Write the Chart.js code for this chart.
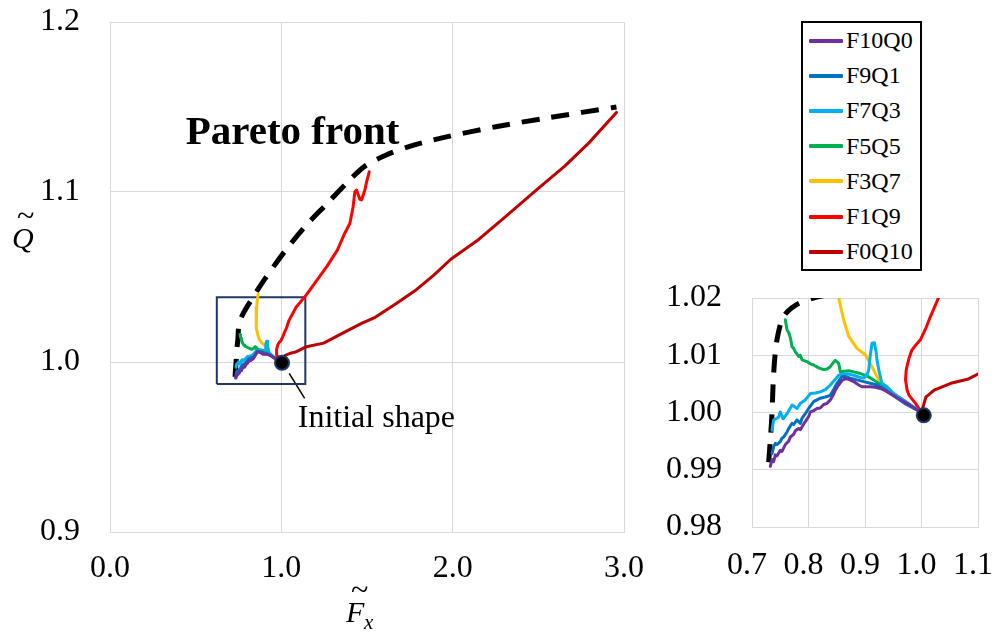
<!DOCTYPE html>
<html>
<head>
<meta charset="utf-8">
<script src="https://cdn.jsdelivr.net/npm/chart.js@4"></script>
<style>
  html, body { margin: 0; padding: 0; background: #fff; }
  body { width: 995px; height: 632px; position: relative; overflow: hidden; font-family: "Liberation Serif", Tinos, "Nimbus Roman", "Times New Roman", "DejaVu Serif", serif; }
  canvas { position: absolute; }
  #mainChart { left: 0; top: 0; }
  #insetChart { left: 620px; top: 270px; }
  .ax { position: absolute; font-style: italic; font-size: 30px; color: #000; line-height: 1; white-space: nowrap; }
  .ax.tl { font-style: normal; font-size: 32px; }
  .ax.sub { font-size: 21px; }
  #legend { position: absolute; left: 801px; top: 21px; width: 117px; border: 2px solid #000; background: #fff; }
  #legend .row { height: 35.2px; display: flex; align-items: center; font-size: 24px; color: #000; }
  #legend .swatch { width: 34px; height: 4px; margin-left: 6px; margin-right: 3px; border-radius: 1px; }
</style>
</head>
<body>
<canvas id="mainChart" width="660" height="632"></canvas>
<canvas id="insetChart" width="375" height="362"></canvas>
<div class="ax" style="left:12px; top:223px;">Q</div>
<div class="ax tl" style="left:17px; top:199px;">~</div>
<div class="ax" style="left:346px; top:597px;">F</div>
<div class="ax tl" style="left:351px; top:573px;">~</div>
<div class="ax sub" style="left:364px; top:612px;">x</div>
<div id="legend"></div>
<script>
// tên chuỗi và màu (giống Excel)
const seriesNames = ['F10Q0', 'F9Q1', 'F7Q3', 'F5Q5', 'F3Q7', 'F1Q9', 'F0Q10']
const seriesColors = ['#7030A0', '#0070C0', '#00B0F0', '#00B050', '#FFC000', '#FF0000', '#C00000']

// tick labels
const mainXTicks = [0.0, 1.0, 2.0, 3.0]
const mainYTicks = [0.9, 1.0, 1.1, 1.2]
const insetXTicks = [0.7, 0.8, 0.9, 1.0, 1.1]
const insetYTicks = [0.98, 0.99, 1.00, 1.01, 1.02]

// [Fx, Q]
const f10q0 = [[0.7324,0.9906],[0.7354,0.9918],[0.7383,0.9914],[0.7413,0.9926],[0.7442,0.9924],[0.75,0.9934],[0.7531,0.9932],[0.759,0.9944],[0.765,0.995],[0.7678,0.9957],[0.7737,0.9962],[0.7767,0.9968],[0.7826,0.9972],[0.7856,0.997],[0.7915,0.998],[0.7944,0.9984],[0.8003,0.9993],[0.8032,1.0001],[0.8091,1.0003],[0.815,1.0007],[0.8209,1.0008],[0.8268,1.0014],[0.8327,1.0016],[0.8386,1.0022],[0.8445,1.0032],[0.8475,1.0039],[0.8534,1.0048],[0.8593,1.0056],[0.8652,1.0059],[0.8711,1.0058],[0.88,1.0054],[0.8888,1.0048],[0.8947,1.0045],[0.9094,1.0045],[0.9183,1.0044],[0.9271,1.0042],[0.936,1.0038],[0.9448,1.0033],[0.96,1.0024],[0.9743,1.0016],[0.9872,1.0008],[1.0,1.0]]
const f9q1 = [[0.7354,0.9928],[0.7383,0.994],[0.7413,0.9946],[0.7442,0.9944],[0.75,0.9949],[0.753,0.9955],[0.756,0.9957],[0.762,0.9966],[0.7649,0.9972],[0.7708,0.9981],[0.7737,0.9979],[0.7796,0.9987],[0.7826,0.9984],[0.7856,0.9981],[0.7885,0.999],[0.7944,0.9998],[0.8003,1.0007],[0.8091,1.0019],[0.815,1.0022],[0.821,1.0025],[0.8298,1.0027],[0.8386,1.003],[0.8445,1.004],[0.8504,1.0051],[0.8593,1.0063],[0.8652,1.0063],[0.874,1.006],[0.8858,1.0057],[0.8976,1.0054],[0.9094,1.0051],[0.9212,1.0048],[0.933,1.0041],[0.9448,1.0033],[0.97,1.0016],[1.0,1.0]]
const f7q3 = [[0.7354,0.9969],[0.7383,0.9987],[0.7442,0.999],[0.7472,0.9992],[0.75,1.0001],[0.7549,0.9989],[0.759,0.9994],[0.762,0.9998],[0.7678,1.0008],[0.7708,1.0013],[0.7767,1.0009],[0.7796,1.0007],[0.7856,1.0016],[0.7944,1.0022],[0.8032,1.0033],[0.8121,1.0034],[0.821,1.0036],[0.8298,1.004],[0.8386,1.0048],[0.8475,1.0058],[0.8534,1.0065],[0.8622,1.0068],[0.871,1.0067],[0.88,1.0065],[0.8888,1.0062],[0.8976,1.006],[0.9035,1.0066],[0.9065,1.0074],[0.9094,1.01],[0.9124,1.0121],[0.9165,1.0122],[0.9194,1.0108],[0.9212,1.0092],[0.9253,1.007],[0.93,1.0051],[0.94,1.0044],[0.9507,1.0033],[0.975,1.0017],[1.0,1.0]]
const f5q5 = [[0.759,1.0162],[0.762,1.0144],[0.765,1.014],[0.768,1.013],[0.7708,1.0115],[0.7737,1.0112],[0.7767,1.0106],[0.7826,1.0098],[0.7856,1.01],[0.7885,1.0092],[0.7973,1.0089],[0.8032,1.0085],[0.8091,1.0083],[0.818,1.0078],[0.8268,1.0075],[0.833,1.0076],[0.8386,1.008],[0.8445,1.0088],[0.8475,1.0091],[0.8534,1.0086],[0.8563,1.0071],[0.8622,1.0072],[0.8711,1.0073],[0.88,1.0071],[0.8917,1.0068],[0.9035,1.0064],[0.9153,1.0057],[0.933,1.0045],[0.9625,1.0025],[1.0,1.0]]
const f3q7 = [[0.865,1.04],[0.859,1.036],[0.856,1.032],[0.854,1.027],[0.853,1.023],[0.8534,1.02],[0.8622,1.0162],[0.8711,1.0133],[0.8858,1.0112],[0.9006,1.0101],[0.9124,1.008],[0.9242,1.0057],[0.9389,1.0039],[0.9625,1.0022],[1.0,1.0]]
const f1q9 = [[1.0,1.0],[0.9894,1.0016],[0.978,1.003],[0.9746,1.0039],[0.9717,1.0057],[0.973,1.0075],[0.978,1.0095],[0.983,1.0109],[0.99,1.0118],[0.998,1.0127],[1.008,1.0148],[1.016,1.0168],[1.03,1.02],[1.045,1.0245],[1.086,1.0322],[1.146,1.0395],[1.207,1.048],[1.267,1.0564],[1.327,1.0658],[1.371,1.0759],[1.4,1.0815],[1.419,1.0913],[1.429,1.1001],[1.439,1.1011],[1.4585,1.0957],[1.468,1.0953],[1.4877,1.1012],[1.4977,1.106],[1.513,1.1119]]
const f0q10 = [[1.0,1.0],[1.0077,1.0027],[1.0224,1.0039],[1.0519,1.0051],[1.0814,1.0058],[1.1,1.0067],[1.146,1.009],[1.247,1.0111],[1.347,1.0164],[1.468,1.0227],[1.548,1.0263],[1.669,1.0343],[1.79,1.0427],[1.89,1.0511],[1.991,1.0606],[2.152,1.0721],[2.312,1.0858],[2.493,1.1016],[2.654,1.1152],[2.795,1.1289],[2.956,1.1468]]
const seriesData = [f10q0, f9q1, f7q3, f5q5, f3q7, f1q9, f0q10]

const paretoMain = [[0.73,0.9913],[0.732,0.995],[0.736,1.0],[0.74,1.007],[0.746,1.013],[0.754,1.0227],[0.78,1.029],[0.824,1.0364],[0.905,1.049],[1.0255,1.0658],[1.146,1.0805],[1.267,1.0932],[1.387,1.1058],[1.488,1.1152],[1.609,1.1216],[1.749,1.1268],[1.95,1.1321],[2.252,1.1384],[2.554,1.1436],[2.956,1.15]]
const paretoInset = [[0.7295,0.9913],[0.7324,0.9952],[0.7354,0.9998],[0.7383,1.0068],[0.7442,1.0127],[0.756,1.0168],[0.7796,1.0189],[0.809,1.02],[0.83,1.0205]]
const initialShape = [[1.004, 0.9995]]
const zoomBox = [[0.6234,0.987],[1.14,0.987],[1.14,1.0381],[0.6234,1.0381],[0.6234,0.987]]
const leaderLine = [[1.046,0.9933],[1.136,0.9786]]

// chỗ đặt chữ chú thích (tọa độ dữ liệu)
const paretoLabelAt = [0.442, 1.128]
const initialLabelAt = [1.096, 0.9617]

const toXY = arr => arr.map(p => ({ x: p[0], y: p[1] }))
const FONT = '"Liberation Serif", Tinos, "Nimbus Roman", "Times New Roman", "DejaVu Serif", serif'
Chart.defaults.font.family = FONT
Chart.defaults.color = '#000'

const buildDatasets = (pareto, dotRadius, withBox) => {
  const ds = []
  ds.push({ data: toXY(initialShape), showLine: false, pointRadius: dotRadius, pointHoverRadius: dotRadius,
    pointBackgroundColor: '#000', pointBorderColor: '#1F3864', pointBorderWidth: 2 })
  seriesData.forEach((d, i) => {
    ds.push({ label: seriesNames[i], data: toXY(d), showLine: true, borderColor: seriesColors[i],
      borderWidth: 3, pointRadius: 0, tension: 0, borderJoinStyle: 'round', borderCapStyle: 'round' })
  })
  ds.push({ data: toXY(pareto), showLine: true, borderColor: '#000', borderWidth: 5,
    borderDash: [18, 12], pointRadius: 0, tension: 0.3 })
  if (withBox) {
    ds.push({ data: toXY(zoomBox), showLine: true, borderColor: '#1F3864', borderWidth: 2, pointRadius: 0, tension: 0 })
    ds.push({ data: toXY(leaderLine), showLine: true, borderColor: '#000', borderWidth: 1.5, pointRadius: 0, tension: 0 })
  }
  return ds
}

// scale: bỏ padding tự động của nhãn để vùng vẽ đúng chỗ
const makeScale = (min, max, ticksArr, digits, opts) => ({
  type: 'linear', min: min, max: max,
  afterBuildTicks: s => { s.ticks = ticksArr.map(v => ({ value: v })) },
  ticks: { color: '#000', font: { family: FONT, size: 32 }, padding: opts.padding,
    labelOffset: opts.labelOffset || 0, callback: v => Number(v).toFixed(digits) },
  grid: { color: '#D9D9D9', lineWidth: 1, drawTicks: false },
  border: { color: '#D9D9D9', width: 1 },
  afterFit: s => {
    if (opts.height) s.height = opts.height
    if (opts.width) s.width = opts.width
    s.paddingTop = 0; s.paddingBottom = 0; s.paddingLeft = 0; s.paddingRight = 0
  }
})

const annotations = {
  id: 'annotations',
  afterDatasetsDraw(chart) {
    const { ctx, scales } = chart
    ctx.save()
    ctx.fillStyle = '#000'
    ctx.textBaseline = 'alphabetic'
    ctx.textAlign = 'left'
    ctx.font = 'bold 41px ' + FONT
    ctx.fillText('Pareto front', scales.x.getPixelForValue(paretoLabelAt[0]), scales.y.getPixelForValue(paretoLabelAt[1]))
    ctx.font = '32px ' + FONT
    ctx.fillText('Initial shape', scales.x.getPixelForValue(initialLabelAt[0]), scales.y.getPixelForValue(initialLabelAt[1]))
    ctx.restore()
  }
}

const commonOptions = {
  responsive: false,
  animation: false,
  devicePixelRatio: 1,
  plugins: { legend: { display: false }, tooltip: { enabled: false } },
  events: []
}

new Chart(document.getElementById('mainChart'), {
  type: 'scatter',
  data: { datasets: buildDatasets(paretoMain, 7, true) },
  options: {
    ...commonOptions,
    layout: { padding: { left: 0, top: 22, right: 36, bottom: 0 } },
    scales: {
      x: makeScale(0, 3, mainXTicks, 1, { padding: 17, height: 100 }),
      y: makeScale(0.9, 1.2, mainYTicks, 1, { padding: 30, width: 110 })
    }
  },
  plugins: [annotations]
})

new Chart(document.getElementById('insetChart'), {
  type: 'scatter',
  data: { datasets: buildDatasets(paretoInset, 7, false) },
  options: {
    ...commonOptions,
    layout: { padding: { left: 0, top: 28, right: 17, bottom: 0 } },
    scales: {
      x: makeScale(0.7, 1.1, insetXTicks, 1, { padding: 19, labelOffset: -5, height: 105 }),
      y: makeScale(0.98, 1.02, insetYTicks, 2, { padding: 30, width: 132 })
    }
  }
})

// legend HTML
const legendEl = document.getElementById('legend')
seriesNames.forEach((name, i) => {
  const row = document.createElement('div')
  row.className = 'row'
  const sw = document.createElement('span')
  sw.className = 'swatch'
  sw.style.background = seriesColors[i]
  const tx = document.createElement('span')
  tx.textContent = name
  row.appendChild(sw)
  row.appendChild(tx)
  legendEl.appendChild(row)
})
</script>
</body>
</html>
